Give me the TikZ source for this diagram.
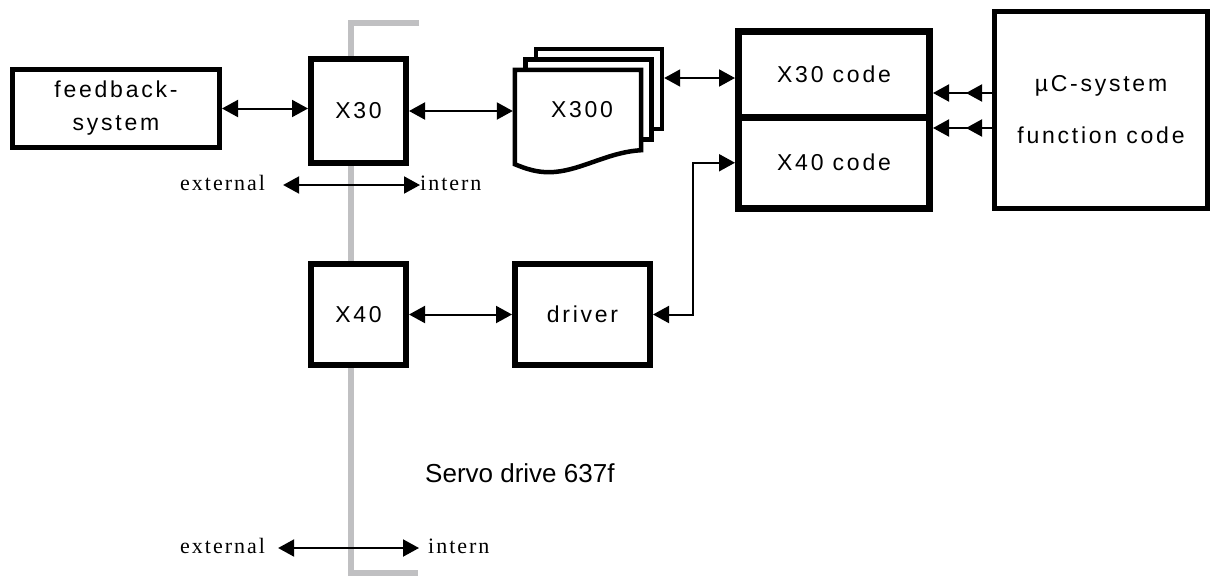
\documentclass[tikz,border=0pt]{standalone}
\usepackage{fontspec}
\setmainfont{Liberation Sans}
\newfontfamily\boxfont[LetterSpace=12]{Liberation Sans}
\newfontfamily\sidefont[LetterSpace=9]{Liberation Serif}
\usetikzlibrary{arrows.meta,calc,backgrounds}
\definecolor{wallgray}{RGB}{192,192,194}
\tikzset{
	block/.style={draw,fill=white,line width=5pt,font=\fontsize{23}{33}\boxfont,align=center,inner sep=0pt},
	codeblock/.style={block,line width=7pt,minimum width=191pt},
	sheet/.style={draw,fill=white,line width=4.5pt,line join=miter},
	biarrow/.style={line width=2pt,{Triangle[length=16pt,width=17pt]}-{Triangle[length=16pt,width=17pt]}},
	dblarrow/.style={line width=2pt,-{Triangle[length=16pt,width=17pt,sep=17pt]Triangle[length=16pt,width=17pt]}},
	side/.style={font=\fontsize{22}{26}\sidefont,inner sep=0pt,anchor=base west},
	wall/.style={draw=wallgray,line width=6pt}
}
\begin{document}
\begin{tikzpicture}[x=1pt,y=-1pt]
\useasboundingbox (0,0) rectangle (1212,576);
% wall of the servo drive
\draw[wall] (419,23) -- (351,23) -- (351,573) -- (418,573);

\node[block,minimum width=207pt,minimum height=78pt] (fb) at (116,108.5) {feedback-\\system};
\node[block,line width=6pt,minimum width=95pt,minimum height=104pt] (x30) at (358.5,111) {X30};
\node[block,line width=6pt,minimum width=95pt,minimum height=101pt] (x40) at (358.5,314.5) {X40};
\node[block,line width=6pt,minimum width=135pt,minimum height=101pt] (drv) at (582.5,314.5) {driver};
\node[font=\fontsize{23}{26}\boxfont,minimum width=126pt,minimum height=80pt,inner sep=0pt] (x300) at (578,110) {\hspace*{8pt}X300};
\begin{scope}[on background layer]
\foreach \d in {21,10.5}
	\draw[sheet] ([shift={(\d,-\d)}]x300.north west) rectangle ([shift={(\d,-\d)}]x300.south east);
\draw[sheet] (x300.south east) -- (x300.north east) -- (x300.north west) -- ([yshift=-14pt]x300.south west)
	.. controls +(12,5) and +(-12,0) .. ++(34,8)
	.. controls +(30,0) and +(-35,2) .. (x300.south east) -- cycle;
\end{scope}
\node[codeblock,minimum height=85.5pt] (x30code) at (834,74.25) {X30 code};
\node[codeblock,minimum height=91.5pt] (x40code) at (834,162.75) {X40 code};
\node[block,minimum width=213pt,minimum height=197pt] (mu) at (1101,110) {µC-system\\[19pt]function code};

\coordinate (x300out) at ([shift={(23,-32)}]x300.east);
\draw[biarrow] (fb.east) -- (fb.east -| x30.west);
\draw[biarrow] (x30.east) -- ([xshift=-2pt]x30.east -| x300.west);
\draw[biarrow] (x300out) -- (x300out -| x30code.west);
\draw[biarrow] (x40.east) -- (drv.west);
\draw[biarrow] (drv.east) -- ++(40,0) |- (x40code.west);
\draw[dblarrow] ([yshift=17pt]mu.west) -- ([yshift=17pt]mu.west -| x30code.east);
\draw[dblarrow] ([yshift=-18pt]mu.west) -- ([yshift=-18pt]mu.west -| x40code.east);

\node[side] (ext1) at (180,190) {external};
\node[side] (int1) at (420,190) {intern};
\draw[biarrow] ([xshift=18pt,yshift=5pt]ext1.base east) -- ([yshift=5pt]int1.base west);
\node[side] (ext2) at (180,553) {external};
\node[side] (int2) at (428,553) {intern};
\draw[biarrow] ([xshift=13pt,yshift=5pt]ext2.base east) -- ([xshift=-9pt,yshift=5pt]int2.base west);

\node[font=\fontsize{26}{30}\selectfont,anchor=west,inner sep=0pt] (servo) at (425,473) {Servo drive 637f};
\end{tikzpicture}
\end{document}
